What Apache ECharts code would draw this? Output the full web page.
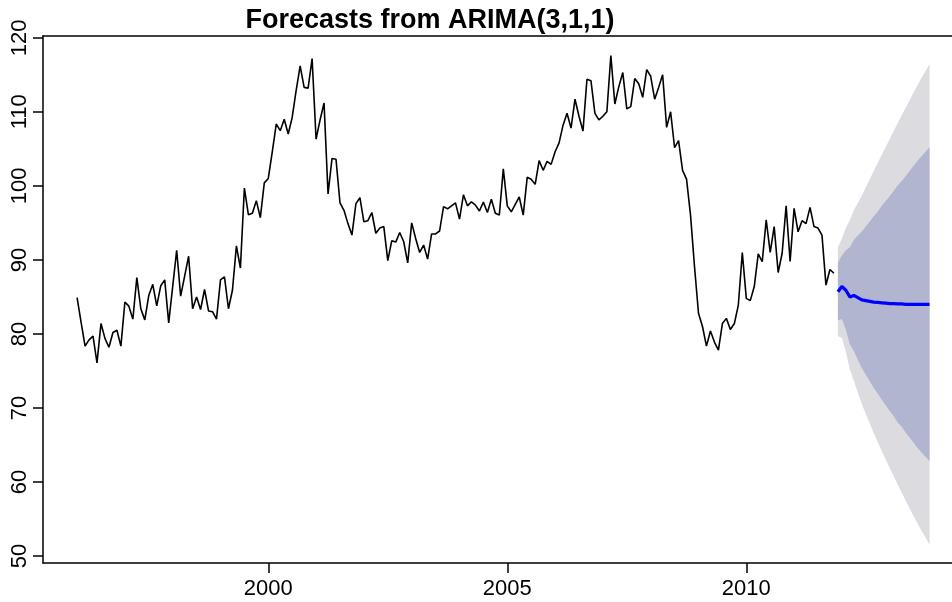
<!DOCTYPE html>
<html>
<head>
<meta charset="utf-8">
<script src="https://cdn.jsdelivr.net/npm/echarts@6/dist/echarts.min.js"></script>
<style>
  html, body { margin: 0; padding: 0; background: #ffffff; }
  #chart { width: 952px; height: 602px; }
</style>
</head>
<body>
<div id="chart"></div>
<script>
// Monthly series, January 1996 to November 2011
const seriesStart = 1996;
const observed = [
  84.9, 81.6, 78.35, 79.2, 79.7, 76.1, 81.4, 79.4, 78.2, 80.2, 80.5, 78.35,
  84.3, 83.75, 82.0, 87.6, 83.4, 81.9, 85.2, 86.7, 83.8, 86.5, 87.3, 81.5,
  86.4, 91.3, 85.1, 87.8, 90.5, 83.4, 85.0, 83.3, 86.0, 83.1, 83.0, 82.0,
  87.3, 87.7, 83.4, 85.9, 91.9, 88.9, 99.7, 96.1, 96.3, 98.0, 95.7, 100.4,
  101.0, 104.6, 108.35, 107.45, 109.0, 107.0, 109.25, 112.9, 116.2, 113.3, 113.2, 117.2,
  106.3, 108.9, 111.2, 98.9, 103.7, 103.6, 97.7, 96.7, 94.9, 93.35, 97.6, 98.4,
  95.15, 95.3, 96.4, 93.6, 94.3, 94.5, 89.9, 92.6, 92.4, 93.7, 92.45, 89.6,
  95.0, 92.9, 91.0, 92.0, 90.1, 93.5, 93.5, 93.9, 97.2, 96.9, 97.3, 97.7,
  95.5, 98.8, 97.3, 97.85, 97.4, 96.6, 97.8, 96.4, 98.2, 96.3, 96.05, 102.3,
  97.3, 96.5, 97.5, 98.5, 96.05, 101.15, 100.9, 100.2, 103.4, 102.1, 103.3, 102.9,
  104.6, 105.8, 108.2, 109.8, 107.8, 111.7, 109.4, 107.4, 114.4, 114.2, 109.8, 108.9,
  109.4, 110.0, 117.6, 111.05, 113.4, 115.3, 110.4, 110.7, 114.5, 113.8, 111.95, 115.7,
  114.8, 111.7, 113.3, 115.0, 107.9, 110.0, 105.15, 106.1, 102.1, 100.9, 96.05, 89.1,
  82.8, 81.0, 78.35, 80.4, 78.9, 77.8, 81.4, 82.1, 80.6, 81.4, 83.9, 91.0,
  84.8, 84.5, 86.4, 90.8, 89.75, 95.4, 91.0, 94.5, 88.3, 90.9, 97.3, 89.8,
  96.95, 93.8, 95.3, 94.9, 97.1, 94.5, 94.3, 93.35, 86.6, 88.7, 88.2
];

// 24-month forecast, December 2011 to November 2013
const forecastStart = 2011 + 11 / 12;
const pointForecast = [
  85.7, 86.4, 85.9, 85.0, 85.2, 84.9, 84.6, 84.5, 84.4, 84.3, 84.25, 84.2,
  84.15, 84.1, 84.1, 84.05, 84.05, 84.0, 84.0, 84.0, 84.0, 84.0, 84.0, 84.0
];
const lower80 = [
  81.8, 82.0, 80.6, 78.6, 77.7, 76.5, 75.4, 74.5, 73.6, 72.7, 71.95, 71.1,
  70.35, 69.6, 68.9, 68.05, 67.45, 66.7, 66.0, 65.3, 64.6, 64.0, 63.4, 62.8
];
const upper80 = [
  89.6, 90.6, 91.3, 91.7, 92.7, 93.3, 93.8, 94.5, 95.2, 95.9, 96.55, 97.3,
  97.95, 98.6, 99.3, 100.05, 100.65, 101.3, 102.0, 102.7, 103.4, 104.0, 104.6, 105.2
];
const lower95 = [
  79.7, 79.5, 77.6, 75.2, 73.7, 72.1, 70.55, 69.2, 67.9, 66.6, 65.4, 64.2,
  63.05, 61.9, 60.8, 59.65, 58.6, 57.5, 56.45, 55.4, 54.4, 53.4, 52.5, 51.55
];
const upper95 = [
  91.7, 92.9, 94.3, 95.4, 96.7, 97.7, 98.65, 99.8, 100.9, 102.0, 103.1, 104.2,
  105.25, 106.3, 107.4, 108.45, 109.5, 110.5, 111.55, 112.6, 113.6, 114.6, 115.5, 116.45
];

const xTicks = [2000, 2005, 2010];
const yTicks = [50, 60, 70, 80, 90, 100, 110, 120];
const titleText = 'Forecasts from ARIMA(3,1,1)';

// time stamps in fractional years
const obsTime = observed.map((_, i) => seriesStart + i / 12);
const fcTime = pointForecast.map((_, i) => forecastStart + i / 12);

function pairs(times, values) {
  return values.map((v, i) => [times[i], v]);
}

// one polygon per prediction band, drawn through the cartesian coordinates
function bandSeries(lo, hi, color) {
  return {
    type: 'custom',
    coordinateSystem: 'cartesian2d',
    silent: true,
    clip: true,
    z: 1,
    data: [[fcTime[0], lo[0]]],
    renderItem: function (params, api) {
      const pts = [];
      for (let k = 0; k < hi.length; k++) pts.push(api.coord([fcTime[k], hi[k]]));
      for (let k = lo.length - 1; k >= 0; k--) pts.push(api.coord([fcTime[k], lo[k]]));
      return { type: 'polygon', shape: { points: pts }, style: { fill: color } };
    }
  };
}

const font = '"Liberation Sans", Arial, Helvetica, sans-serif';
const frame = { color: '#000000', width: 1.5 };
const chart = echarts.init(document.getElementById('chart'), null, { renderer: 'canvas' });

chart.setOption({
  animation: false,
  backgroundColor: '#ffffff',
  grid: { left: 43, top: 36, right: 0, bottom: 39 },
  graphic: [{
    type: 'text',
    x: 430, y: 21,
    style: {
      text: titleText,
      font: 'bold 27px ' + font,
      fill: '#000000',
      textAlign: 'center',
      textVerticalAlign: 'middle'
    },
    z: 10
  }],
  xAxis: [{
    type: 'value',
    min: 1995.287, max: 2014.3035,
    axisLine: { show: true, onZero: false, lineStyle: frame },
    splitLine: { show: false },
    axisTick: { show: true, length: 10, customValues: xTicks, lineStyle: frame },
    axisLabel: {
      customValues: xTicks, fontSize: 22, fontFamily: font, color: '#000', margin: 15,
      formatter: v => String(v)
    }
  }, {
    // upper edge of the plot frame
    type: 'value',
    position: 'top',
    min: 1995.287, max: 2014.3035,
    axisLine: { show: true, onZero: false, lineStyle: frame },
    axisTick: { show: false },
    axisLabel: { show: false },
    splitLine: { show: false }
  }],
  yAxis: {
    type: 'value',
    min: 49.06, max: 120.24,
    axisLine: { show: true, onZero: false, lineStyle: frame },
    splitLine: { show: false },
    axisTick: { show: true, length: 10, customValues: yTicks, lineStyle: frame },
    axisLabel: {
      customValues: yTicks, rotate: 90, fontSize: 22, fontFamily: font, color: '#000', margin: 12,
      formatter: v => String(v)
    }
  },
  series: [
    bandSeries(lower95, upper95, '#dbdbe0'),
    bandSeries(lower80, upper80, '#b1b5cf'),
    {
      type: 'line',
      data: pairs(obsTime, observed),
      showSymbol: false,
      symbol: 'none',
      lineStyle: { color: '#000000', width: 1.6 },
      z: 3,
      silent: true
    },
    {
      type: 'line',
      data: pairs(fcTime, pointForecast),
      showSymbol: false,
      symbol: 'none',
      lineStyle: { color: '#0000ff', width: 3.2 },
      z: 4,
      silent: true
    }
  ]
});
</script>
</body>
</html>
